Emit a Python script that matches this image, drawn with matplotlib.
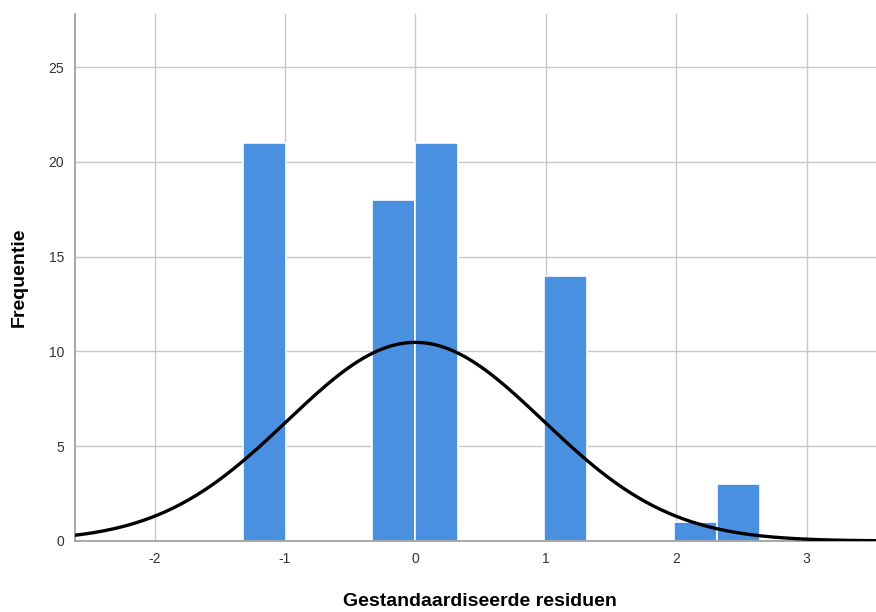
import numpy as np
import matplotlib
matplotlib.use("Agg")
import matplotlib.pyplot as plt

# Data
bin_start = -1.32
bin_width = 0.33
counts = [21, 0, 0, 18, 21, 0, 0, 14, 0, 0, 1, 3]
x_ticks = [-2, -1, 0, 1, 2, 3]
y_ticks = [0, 5, 10, 15, 20, 25]
n_obs = sum(counts)
fit_mean = 0.0
fit_sd = 0.98

plt.rcParams['font.family'] = ['Liberation Sans', 'DejaVu Sans']

fig = plt.figure(figsize=(8.76, 6.12), dpi=100)
ax = fig.add_axes([75/876, (612-541)/612, 1 - 75/876 + 0.01, (541-14)/612])

edges = bin_start + bin_width * np.arange(len(counts))
ax.bar(edges, counts, width=bin_width, align='edge', color='#4a90e0',
       edgecolor='white', linewidth=1.2, zorder=2)

xs = np.linspace(-3, 4, 600)
ys = n_obs * bin_width * np.exp(-0.5 * ((xs - fit_mean) / fit_sd) ** 2) / (fit_sd * np.sqrt(2 * np.pi))
ax.plot(xs, ys, color='black', linewidth=2.4, zorder=3)

ax.set_xlim(-2.61, 3.6)
ax.set_ylim(0, 27.8)
ax.set_xticks(x_ticks)
ax.set_yticks(y_ticks)
ax.set_xticklabels([str(t) for t in x_ticks])
ax.set_yticklabels([str(t) for t in y_ticks])
ax.tick_params(length=0, labelsize=10, colors='#333333', pad=8)
ax.grid(True, color='#c8c8c8', linewidth=1.0, zorder=0)
ax.set_axisbelow(True)
for s in ['top', 'right']:
    ax.spines[s].set_visible(False)
for s in ['left', 'bottom']:
    ax.spines[s].set_color('#999999')
    ax.spines[s].set_linewidth(1.2)

ax.set_xlabel('Gestandaardiseerde residuen', fontsize=14, fontweight='bold', labelpad=19)
ax.set_ylabel('Frequentie', fontsize=14, fontweight='bold', labelpad=15)

fig.savefig('out.png', dpi=100)
